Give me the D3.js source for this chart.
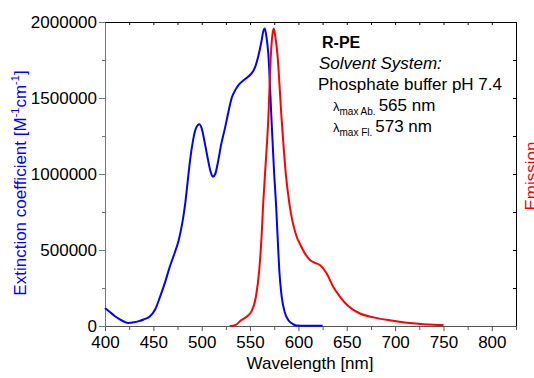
<!DOCTYPE html>
<html>
<head>
<meta charset="utf-8">
<script src="https://cdn.jsdelivr.net/npm/d3@7"></script>
<style>
body { margin: 0; background: #fff; }
svg { display: block; font-family: "Liberation Sans", Arial, sans-serif; }
</style>
</head>
<body>
<div id="chart"></div>
<script>
// absorption spectrum (extinction coefficient, M^-1 cm^-1)
var absWl  = [400, 405, 410, 415, 420, 424, 430, 435, 440, 446, 452, 457, 462, 467, 472, 476, 480, 483, 486, 488, 491, 494, 497.5, 500, 503, 506, 509, 511.5, 514, 517, 520, 524, 528, 531, 535, 538, 543, 548, 552, 555, 558.5, 562, 563.5, 565.2, 567, 568.8, 572.2, 575, 576.8, 578.5, 580.2, 582.7, 586.1, 589.5, 593, 598, 605, 625];
var absVal = [118000, 92000, 66000, 45000, 28000, 20000, 24000, 32000, 43000, 61000, 110000, 193000, 285000, 390000, 480000, 560000, 680000, 809000, 980000, 1092000, 1220000, 1300000, 1327000, 1300000, 1210000, 1110000, 1020000, 982000, 1000000, 1085000, 1190000, 1300000, 1420000, 1500000, 1555000, 1585000, 1615000, 1640000, 1665000, 1700000, 1775000, 1880000, 1935000, 1958000, 1900000, 1796000, 1355000, 993000, 809000, 587000, 368000, 193000, 86000, 40000, 18000, 4000, 2000, 2000];

// emission spectrum (normalised intensity)
var emWl  = [529, 535, 541, 546, 551.6, 556.1, 559.5, 561.9, 563.6, 565.4, 568.8, 571.6, 573, 574.5, 576, 578.2, 582.7, 587.1, 590.6, 598.2, 601.6, 606.7, 612, 617, 622.2, 629.1, 636, 642.9, 651.5, 663.6, 677.4, 698, 718.7, 740, 750];
var emVal = [0, 0.004, 0.02, 0.03, 0.05, 0.099, 0.188, 0.30, 0.413, 0.507, 0.692, 0.917, 0.975, 1.0, 0.975, 0.917, 0.692, 0.507, 0.413, 0.30, 0.276, 0.244, 0.222, 0.212, 0.205, 0.177, 0.132, 0.099, 0.067, 0.042, 0.029, 0.018, 0.009, 0.004, 0.003];

var xTicks = [400, 450, 500, 550, 600, 650, 700, 750, 800];
var yTicks = [0, 500000, 1000000, 1500000, 2000000];

var width = 534, height = 378;
var margin = {left: 105, right: 18, top: 22, bottom: 52};

var svg = d3.select("#chart").append("svg")
    .attr("width", width)
    .attr("height", height);

var x = d3.scaleLinear().domain([400, 825]).range([margin.left, width - margin.right]);
var y = d3.scaleLinear().domain([0, 2000000]).range([height - margin.bottom, margin.top]);
var y2 = d3.scaleLinear().domain([0, 2000000 / 1958000]).range([height - margin.bottom, margin.top]);

var minorX = d3.range(400, 826, 25);
var minorY = d3.range(0, 2000001, 250000);

// top + right frame, ticks inward
svg.append("g")
    .attr("transform", "translate(0," + margin.top + ")")
    .call(d3.axisTop(x).tickValues(minorX).tickSize(-3).tickFormat(""))
    .call(function(g) { g.selectAll("path, line").attr("stroke", "#000"); });

svg.append("g")
    .attr("transform", "translate(" + (width - margin.right) + ",0)")
    .call(d3.axisRight(y).tickValues(minorY).tickSize(-3).tickFormat(""))
    .call(function(g) { g.selectAll("path, line").attr("stroke", "#000"); });

// bottom axis
svg.append("g")
    .attr("transform", "translate(0," + (height - margin.bottom) + ")")
    .call(d3.axisBottom(x).tickValues(minorX.filter(function(d) { return d % 50; })).tickSize(4).tickFormat(""))
    .call(function(g) { g.select(".domain").remove(); g.selectAll("line").attr("stroke", "#555"); });

svg.append("g")
    .attr("class", "xaxis")
    .attr("transform", "translate(0," + (height - margin.bottom) + ")")
    .call(d3.axisBottom(x).tickValues(xTicks).tickSize(5).tickSizeOuter(0).tickPadding(5))
    .call(function(g) {
        g.selectAll("path, line").attr("stroke", "#555");
        g.selectAll("text").attr("font-size", 17).attr("fill", "#000").attr("font-family", "Liberation Sans, Arial");
    });

// left axis
svg.append("g")
    .attr("transform", "translate(" + margin.left + ",0)")
    .call(d3.axisLeft(y).tickValues(minorY.filter(function(d) { return d % 500000; })).tickSize(3).tickFormat(""))
    .call(function(g) { g.select(".domain").remove(); g.selectAll("line").attr("stroke", "#777"); });

svg.append("g")
    .attr("transform", "translate(" + margin.left + ",0)")
    .call(d3.axisLeft(y).tickValues(yTicks).tickSize(6).tickSizeOuter(0).tickPadding(2).tickFormat(d3.format("d")))
    .call(function(g) {
        g.selectAll("path, line").attr("stroke", "#777");
        g.selectAll("text").attr("font-size", 17).attr("fill", "#000").attr("font-family", "Liberation Sans, Arial");
    });

// curves
var absLine = d3.line()
    .x(function(d, i) { return x(absWl[i]); })
    .y(function(d) { return y(d); })
    .curve(d3.curveMonotoneX);

var emLine = d3.line()
    .x(function(d, i) { return x(emWl[i]); })
    .y(function(d) { return y2(d); })
    .curve(d3.curveMonotoneX);

svg.append("path")
    .datum(absVal)
    .attr("d", absLine)
    .attr("fill", "none")
    .attr("stroke", "#0000ff")
    .attr("stroke-width", 2);

svg.append("path")
    .datum(emVal)
    .attr("d", emLine)
    .attr("fill", "none")
    .attr("stroke", "#ff0000")
    .attr("stroke-width", 2);

// axis titles
svg.append("text")
    .attr("x", 310)
    .attr("y", 369)
    .attr("text-anchor", "middle")
    .attr("font-size", 17)
    .text("Wavelength [nm]");

var ylab = svg.append("text")
    .attr("transform", "translate(26,183) rotate(-90)")
    .attr("text-anchor", "middle")
    .attr("font-size", 17)
    .attr("fill", "#0000ff");
ylab.append("tspan").text("Extinction coefficient [M");
ylab.append("tspan").attr("font-size", 11).attr("dy", -7).text("-1");
ylab.append("tspan").attr("dy", 7).text("cm");
ylab.append("tspan").attr("font-size", 11).attr("dy", -7).text("-1");
ylab.append("tspan").attr("dy", 7).text("]");

svg.append("text")
    .attr("transform", "translate(537,176) rotate(-90)")
    .attr("text-anchor", "middle")
    .attr("font-size", 17)
    .attr("fill", "#ff0000")
    .text("Emission");

// info text
svg.append("text").attr("x", 322).attr("y", 48).attr("font-size", 16).attr("font-weight", "bold").text("R-PE");
svg.append("text").attr("x", 319).attr("y", 69).attr("font-size", 17).attr("font-style", "italic").text("Solvent System:");
svg.append("text").attr("x", 318).attr("y", 90).attr("font-size", 17).text("Phosphate buffer pH 7.4");

var lam = [["max Ab.", "565 nm", 111], ["max Fl.", "573 nm", 132]];
lam.forEach(function(l) {
    var t = svg.append("text").attr("x", 333).attr("y", l[2]).attr("font-size", 13);
    t.append("tspan").text("\u03bb");
    t.append("tspan").attr("font-size", 10).attr("dy", 4).text(l[0]);
    t.append("tspan").attr("font-size", 17).attr("dy", -4).attr("dx", 3).text(l[1]);
});
</script>
</body>
</html>
